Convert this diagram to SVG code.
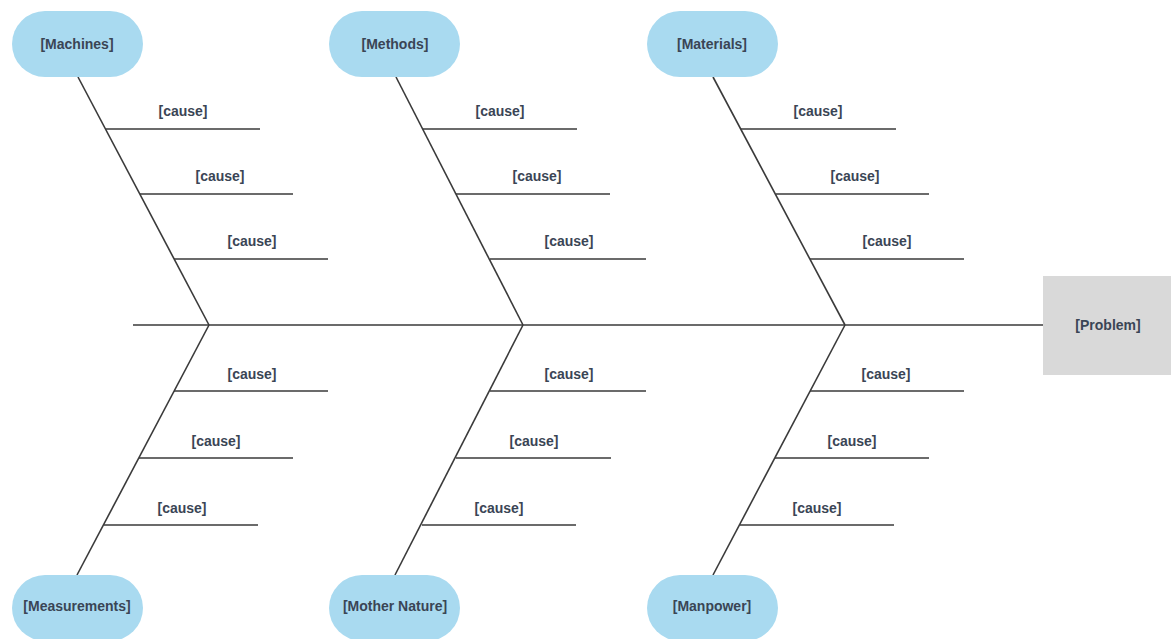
<svg xmlns="http://www.w3.org/2000/svg" width="1171" height="639" viewBox="0 0 1171 639">
<style>
.pill{fill:#a9daf0;stroke:none}
.t{font-family:"Liberation Sans",Arial,sans-serif;font-size:14px;font-weight:bold;fill:#3a4555;text-anchor:middle;dominant-baseline:central}
.ln{stroke:#3a3a3a;stroke-width:1.6;fill:none}
</style>
<rect width="1171" height="639" fill="#ffffff"/>
<g id="connectors">
<line class="ln" x1="133" y1="325" x2="1043" y2="325"/>
<!-- Machines -->
<line class="ln" x1="78" y1="77" x2="209" y2="325"/>
<line class="ln" x1="106" y1="129" x2="260" y2="129"/>
<line class="ln" x1="140" y1="194" x2="293" y2="194"/>
<line class="ln" x1="174" y1="259" x2="328" y2="259"/>
<!-- Measurements -->
<line class="ln" x1="209" y1="325" x2="77" y2="575"/>
<line class="ln" x1="174" y1="391" x2="328" y2="391"/>
<line class="ln" x1="139" y1="458" x2="293" y2="458"/>
<line class="ln" x1="104" y1="525" x2="258" y2="525"/>
<!-- Methods -->
<line class="ln" x1="396" y1="77" x2="523" y2="325"/>
<line class="ln" x1="423" y1="129" x2="577" y2="129"/>
<line class="ln" x1="456" y1="194" x2="610" y2="194"/>
<line class="ln" x1="490" y1="259" x2="646" y2="259"/>
<!-- Mother Nature -->
<line class="ln" x1="523" y1="325" x2="395" y2="575"/>
<line class="ln" x1="490" y1="391" x2="646" y2="391"/>
<line class="ln" x1="456" y1="458" x2="611" y2="458"/>
<line class="ln" x1="422" y1="525" x2="576" y2="525"/>
<!-- Materials -->
<line class="ln" x1="713" y1="77" x2="845" y2="325"/>
<line class="ln" x1="741" y1="129" x2="896" y2="129"/>
<line class="ln" x1="776" y1="194" x2="929" y2="194"/>
<line class="ln" x1="810" y1="259" x2="964" y2="259"/>
<!-- Manpower -->
<line class="ln" x1="845" y1="325" x2="713" y2="575"/>
<line class="ln" x1="810" y1="391" x2="964" y2="391"/>
<line class="ln" x1="775" y1="458" x2="929" y2="458"/>
<line class="ln" x1="740" y1="525" x2="894" y2="525"/>
</g>
<g id="machines"><rect class="pill" x="12" y="11" width="131" height="66" rx="33"/><text class="t" x="77" y="44">[Machines]</text></g>
<g id="methods"><rect class="pill" x="329" y="11" width="131" height="66" rx="33"/><text class="t" x="395" y="44">[Methods]</text></g>
<g id="materials"><rect class="pill" x="647" y="11" width="131" height="66" rx="33"/><text class="t" x="712" y="44">[Materials]</text></g>
<g id="measurements"><rect class="pill" x="12" y="575" width="131" height="66" rx="33"/><text class="t" x="77" y="606">[Measurements]</text></g>
<g id="mother-nature"><rect class="pill" x="329" y="575" width="131" height="66" rx="33"/><text class="t" x="395" y="606">[Mother Nature]</text></g>
<g id="manpower"><rect class="pill" x="647" y="575" width="131" height="66" rx="33"/><text class="t" x="712" y="606">[Manpower]</text></g>
<g id="problem"><rect x="1043" y="276" width="128" height="99" fill="#d9d9d9"/><text class="t" x="1108" y="325">[Problem]</text></g>
<g id="causes">
<text class="t" x="183" y="111">[cause]</text>
<text class="t" x="220" y="176">[cause]</text>
<text class="t" x="252" y="241">[cause]</text>
<text class="t" x="252" y="374">[cause]</text>
<text class="t" x="216" y="441">[cause]</text>
<text class="t" x="182" y="508">[cause]</text>
<text class="t" x="500" y="111">[cause]</text>
<text class="t" x="537" y="176">[cause]</text>
<text class="t" x="569" y="241">[cause]</text>
<text class="t" x="569" y="374">[cause]</text>
<text class="t" x="534" y="441">[cause]</text>
<text class="t" x="499" y="508">[cause]</text>
<text class="t" x="818" y="111">[cause]</text>
<text class="t" x="855" y="176">[cause]</text>
<text class="t" x="887" y="241">[cause]</text>
<text class="t" x="886" y="374">[cause]</text>
<text class="t" x="852" y="441">[cause]</text>
<text class="t" x="817" y="508">[cause]</text>
</g>
</svg>
